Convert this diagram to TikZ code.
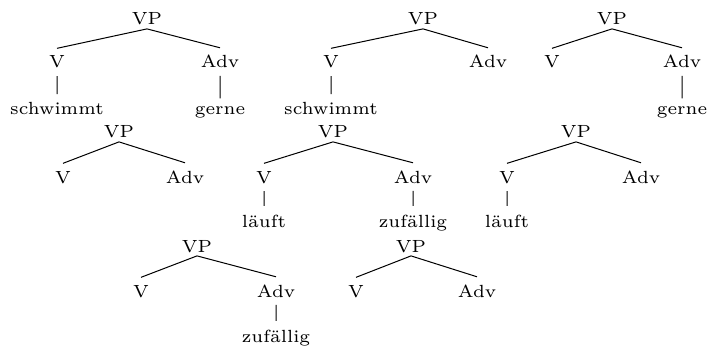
\documentclass[tikz,border=0pt]{standalone}
\usepackage{tikz}
\tikzstyle{phrase} = [anchor=base, scale=1.17, inner ysep=1pt]
\tikzstyle{pre} = [anchor=base, scale=1.17, inner ysep=2.4pt]
\tikzstyle{leaf} = [anchor=base, scale=1.17, inner ysep=2.75pt]
\tikzstyle{branch} = [line width=0.4pt]

\begin{document}
\begin{tikzpicture}[x=0.3984pt, y=-0.3984pt, font=\fontsize{6}{7}\selectfont]
\useasboundingbox (0,0) rectangle (707,350);
% first row
\node (vp1) [phrase] at (147,25) {VP};
\node (v1) [pre] at (57,68) {V};
\node (adv1) [pre] at (220,68) {Adv};
\node (w1a) [leaf] at (57,115) {schwimmt};
\node (w1b) [leaf] at (220,115) {gerne};

\node (vp2) [phrase] at (423,25) {VP};
\node (v2) [pre] at (331,68) {V};
\node (adv2) [pre] at (488,68) {Adv};
\node (w2a) [leaf] at (331,115) {schwimmt};

\node (vp3) [phrase] at (612,25) {VP};
\node (v3) [pre] at (552,68) {V};
\node (adv3) [pre] at (682,68) {Adv};
\node (w3b) [leaf] at (682,115) {gerne};

% second row
\node (vp4) [phrase] at (119,138) {VP};
\node (v4) [pre] at (63,183) {V};
\node (adv4) [pre] at (185,183) {Adv};

\node (vp5) [phrase] at (333,138) {VP};
\node (v5) [pre] at (264,183) {V};
\node (adv5) [pre] at (413,183) {Adv};
\node (w5a) [leaf] at (264,227) {läuft};
\node (w5b) [leaf] at (413,227) {zufällig};

\node (vp6) [phrase] at (576,138) {VP};
\node (v6) [pre] at (507,183) {V};
\node (adv6) [pre] at (641,183) {Adv};
\node (w6a) [leaf] at (507,227) {läuft};

% third row
\node (vp7) [phrase] at (197,252) {VP};
\node (v7) [pre] at (141,297) {V};
\node (adv7) [pre] at (276,297) {Adv};
\node (w7b) [leaf] at (276,342) {zufällig};

\node (vp8) [phrase] at (411,252) {VP};
\node (v8) [pre] at (356,297) {V};
\node (adv8) [pre] at (477,297) {Adv};

\draw [branch] (v1.north) -- (vp1.south) -- (adv1.north);
\draw [branch] (v1) -- (w1a);
\draw [branch] (adv1) -- (w1b);
\draw [branch] (v2.north) -- (vp2.south) -- (adv2.north);
\draw [branch] (v2) -- (w2a);
\draw [branch] (v3.north) -- (vp3.south) -- (adv3.north);
\draw [branch] (adv3) -- (w3b);
\draw [branch] (v4.north) -- (vp4.south) -- (adv4.north);
\draw [branch] (v5.north) -- (vp5.south) -- (adv5.north);
\draw [branch] (v5) -- (w5a);
\draw [branch] (adv5) -- (w5b);
\draw [branch] (v6.north) -- (vp6.south) -- (adv6.north);
\draw [branch] (v6) -- (w6a);
\draw [branch] (v7.north) -- (vp7.south) -- (adv7.north);
\draw [branch] (adv7) -- (w7b);
\draw [branch] (v8.north) -- (vp8.south) -- (adv8.north);
\end{tikzpicture}
\end{document}
